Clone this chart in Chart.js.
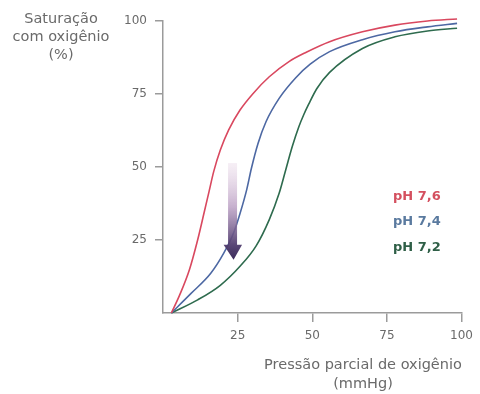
<!DOCTYPE html>
<html>
<head>
<meta charset="utf-8">
<script src="https://cdn.jsdelivr.net/npm/chart.js@4"></script>
<style>
  html, body { margin: 0; padding: 0; background: #fff; }
  #wrap { width: 480px; height: 394px; }
</style>
</head>
<body>
<div id="wrap"><canvas id="myChart" width="480" height="394"></canvas></div>
<script>
// curves: oxygen saturation vs partial pressure for three pH values
const seriesLabels = ['pH 7,6', 'pH 7,4', 'pH 7,2'];
const lineColors = ['#d9485f', '#4d68a3', '#2e6b4e'];
const labelColors = ['#d4505f', '#5a7a9f', '#2f5f47'];

const po2_76 = [2.8, 5.6, 8.9, 11.6, 13.8, 15.4, 17, 19.2, 22, 25.8, 30.2, 35.6, 42.2, 48, 55.8, 66.8, 77.7, 88.6, 98.5];
const sat_76 = [0, 6.2, 15, 25, 34.5, 41.5, 48.5, 55.8, 62.7, 69.5, 75.2, 80.9, 86.1, 89.3, 92.9, 96.3, 98.6, 100, 100.7];

const po2_74 = [2.8, 9.4, 16, 20.3, 23.6, 25.8, 28, 29.6, 31.8, 34.5, 38.9, 44.4, 49.3, 55.8, 66.8, 77.7, 88.6, 98.5];
const sat_74 = [0, 6.7, 13.6, 20.4, 27.3, 34.1, 42.1, 49.5, 58, 65.5, 73.5, 80.5, 85.2, 89.5, 93.6, 96.3, 98, 99.2];

const po2_72 = [2.8, 11.6, 19.2, 25.8, 31.2, 35.6, 38.9, 41.1, 43.3, 45.5, 47.1, 48.8, 51.5, 55.8, 66.8, 77.7, 88.6, 98.5];
const sat_72 = [0, 4.5, 9.5, 16, 23, 32, 41, 49, 57, 63.8, 67.8, 71.5, 76.8, 82.4, 90.6, 94.6, 96.6, 97.5];

const xTicks = [25, 50, 75, 100];
const yTicks = [25, 50, 75, 100];

// arrow showing the shift of the curve (x, top y, tip y)
const shiftArrow = {x: 23.3, yFrom: 51.4, yTo: 18.2};

const toPoints = (xs, ys) => xs.map((x, i) => ({x: x, y: ys[i]}));
const allSeries = [toPoints(po2_76, sat_76), toPoints(po2_74, sat_74), toPoints(po2_72, sat_72)];

const axisGray = '#9b9b9b';
const textGray = '#6a6a6a';

const decorations = {
    id: 'decorations',
    afterDatasetsDraw(chart) {
        const ctx = chart.ctx;
        const xs = chart.scales.x, ys = chart.scales.y;

        // gradient arrow
        const ax = xs.getPixelForValue(shiftArrow.x);
        const top = ys.getPixelForValue(shiftArrow.yFrom);
        const tip = ys.getPixelForValue(shiftArrow.yTo);
        const headBase = tip - 15;
        const grad = ctx.createLinearGradient(0, top, 0, tip);
        grad.addColorStop(0, 'rgba(230, 210, 228, 0.35)');
        grad.addColorStop(0.45, 'rgba(180, 150, 190, 0.75)');
        grad.addColorStop(0.85, 'rgba(80, 60, 110, 0.95)');
        grad.addColorStop(1, '#3a2b5a');
        ctx.save();
        ctx.fillStyle = grad;
        ctx.beginPath();
        ctx.moveTo(ax - 4.5, top);
        ctx.lineTo(ax + 4.5, top);
        ctx.lineTo(ax + 4.5, headBase);
        ctx.lineTo(ax + 9.5, headBase);
        ctx.lineTo(ax + 1, tip);
        ctx.lineTo(ax - 9, headBase);
        ctx.lineTo(ax - 4.5, headBase);
        ctx.closePath();
        ctx.fill();

        // series labels
        ctx.font = 'bold 13px "DejaVu Sans"';
        ctx.textAlign = 'left';
        ctx.textBaseline = 'middle';
        const labelY = [197, 222, 248];
        seriesLabels.forEach((t, i) => {
            ctx.fillStyle = labelColors[i];
            ctx.fillText(t, 393, labelY[i]);
        });

        // axis titles
        ctx.fillStyle = textGray;
        ctx.font = '14.5px "DejaVu Sans"';
        ctx.textAlign = 'center';
        ['Saturação', 'com oxigênio', '(%)'].forEach((t, i) => ctx.fillText(t, 61, 19 + i * 18));
        ['Pressão parcial de oxigênio', '(mmHg)'].forEach((t, i) => ctx.fillText(t, 363, 365 + i * 19));
        ctx.restore();
    }
};

const ctx = document.getElementById('myChart').getContext('2d');
const myChart = new Chart(ctx, {
    type: 'line',
    data: {
        datasets: allSeries.map((pts, i) => ({
            label: seriesLabels[i],
            data: pts,
            borderColor: lineColors[i],
            borderWidth: 1.6,
            pointRadius: 0,
            fill: false,
            cubicInterpolationMode: 'monotone',
            clip: false
        }))
    },
    options: {
        responsive: false,
        animation: false,
        layout: {padding: {left: 0, right: 12, top: 21, bottom: 0}},
        plugins: {
            legend: {display: false},
            tooltip: {enabled: false}
        },
        scales: {
            x: {
                type: 'linear',
                min: 0,
                max: 100,
                afterBuildTicks: s => { s.ticks = xTicks.map(v => ({value: v})); },
                afterFit: s => { s.height = 81; },
                grid: {drawOnChartArea: false, color: axisGray, lineWidth: 1.5, tickLength: 9},
                border: {color: axisGray, width: 1.5},
                ticks: {color: textGray, font: {family: 'DejaVu Sans', size: 12}, padding: 7, maxRotation: 0}
            },
            y: {
                type: 'linear',
                min: 0,
                max: 100,
                afterBuildTicks: s => { s.ticks = yTicks.map(v => ({value: v})); },
                afterFit: s => { s.width = 163; },
                grid: {drawOnChartArea: false, color: axisGray, lineWidth: 1.5, tickLength: 8},
                border: {color: axisGray, width: 1.5},
                ticks: {color: textGray, font: {family: 'DejaVu Sans', size: 12}, padding: 8}
            }
        }
    },
    plugins: [decorations]
});
</script>
</body>
</html>
